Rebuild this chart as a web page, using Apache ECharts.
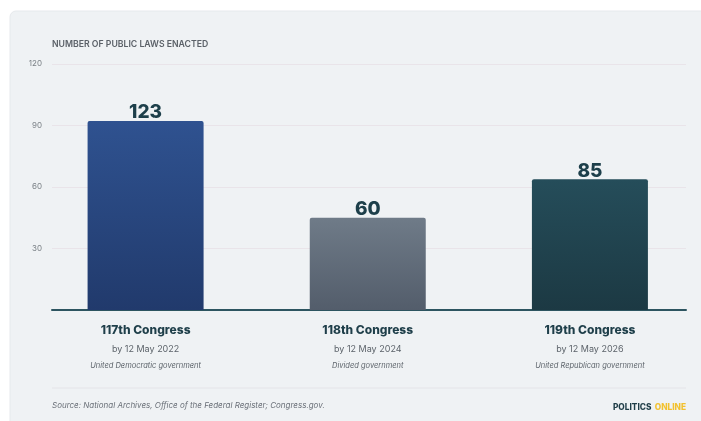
<!DOCTYPE html>
<html><head><meta charset="utf-8">
<script src="https://cdn.jsdelivr.net/npm/echarts@6/dist/echarts.min.js"></script>
<style>html,body{margin:0;padding:0;background:#fff}#c{width:701px;height:421px}</style>
</head><body><div id="c"></div>
<script>
const congresses = ["117th Congress", "118th Congress", "119th Congress"];
const dates = ["by 12 May 2022", "by 12 May 2024", "by 12 May 2026"];
const governments = ["United Democratic government", "Divided government", "United Republican government"];
const lawsEnacted = [123, 60, 85];
const tickLabels = ["", "30", "60", "90", "120"];
const barColors = [["#2f5290", "#213a6c"], ["#6f7b88", "#535d6b"], ["#254d5a", "#1c3943"]];

const chart = echarts.init(document.getElementById('c'), null, {renderer: 'canvas'});
const FONT = 'Inter, "Noto Sans", sans-serif';
const gridTop = 64, gridBottom = 111;
chart.setOption({
  animation: false,
  backgroundColor: '#ffffff',
  graphic: [
    {type: 'rect', shape: {x: 10, y: 11, width: 700, height: 420, r: 6}, style: {fill: '#eff2f4', stroke: '#e6e9ec', lineWidth: 1}, z: -10},
    {type: 'text', left: 52, top: 40, style: {text: 'NUMBER OF PUBLIC LAWS ENACTED', fill: '#5b6168', font: '600 8.7px ' + FONT}},
    {type: 'line', shape: {x1: 52, y1: 388, x2: 686, y2: 388}, style: {stroke: '#e4e4e8', lineWidth: 1}},
    {type: 'text', left: 52, top: 402, style: {text: 'Source: National Archives, Office of the Federal Register; Congress.gov.', fill: '#6a7078', font: 'italic 8px ' + FONT}},
    {type: 'text', right: 15, top: 402, style: {text: '{a|POLITICS} {b|ONLINE}', rich: {
      a: {fill: '#1f3d47', font: '800 8.3px ' + FONT},
      b: {fill: '#f2c12e', font: '800 8.3px ' + FONT}
    }}}
  ],
  grid: [
    {left: 52, right: 15, top: gridTop, bottom: gridBottom},
    {left: 34.5, width: 670.5, top: gridTop, bottom: gridBottom}
  ],
  xAxis: [
    {type: 'value', gridIndex: 0, min: 0, max: 1, show: true, axisLabel: {show: false}, axisTick: {show: false}, splitLine: {show: false},
     axisLine: {show: true, onZero: false, lineStyle: {color: '#2d5560', width: 2}}},
    {type: 'category', gridIndex: 1, data: congresses, axisLine: {show: false}, axisTick: {show: false},
     axisLabel: {margin: 11, interval: 0,
       formatter: function (v, i) { return '{t|' + v + '}\n{d|' + dates[i] + '}\n{g|' + governments[i] + '}'; },
       rich: {
         t: {fontFamily: FONT, fontWeight: 800, fontSize: 12, color: '#1f3f4a', lineHeight: 19},
         d: {fontFamily: FONT, fontSize: 9, color: '#5d646b', lineHeight: 18},
         g: {fontFamily: FONT, fontStyle: 'italic', fontSize: 7.5, color: '#5d646b', lineHeight: 16}
       }}}
  ],
  yAxis: [
    {type: 'value', gridIndex: 0, min: 0, max: 160, interval: 40,
     axisLine: {show: false}, axisTick: {show: false},
     axisLabel: {margin: 10, color: '#7a8086', fontSize: 8, fontFamily: FONT, formatter: function (v) { return tickLabels[Math.round(v / 40)]; }},
     splitLine: {lineStyle: {color: '#e9e4e9', width: 1}}},
    {type: 'value', gridIndex: 1, min: 0, max: 160, interval: 40, show: false, splitLine: {show: false}}
  ],
  series: [{
    type: 'bar', xAxisIndex: 1, yAxisIndex: 1, barWidth: 116,
    data: lawsEnacted.map(function (v, i) {
      return {value: v, itemStyle: {borderRadius: [2, 2, 0, 0], color: new echarts.graphic.LinearGradient(0, 0, 0, 1, [
        {offset: 0, color: barColors[i][0]}, {offset: 1, color: barColors[i][1]}])}};
    }),
    label: {show: true, position: 'top', distance: -1, color: '#1d3f4a', fontFamily: FONT, fontWeight: 800, fontSize: 19},
    z: 3
  }]
});
</script></body></html>
